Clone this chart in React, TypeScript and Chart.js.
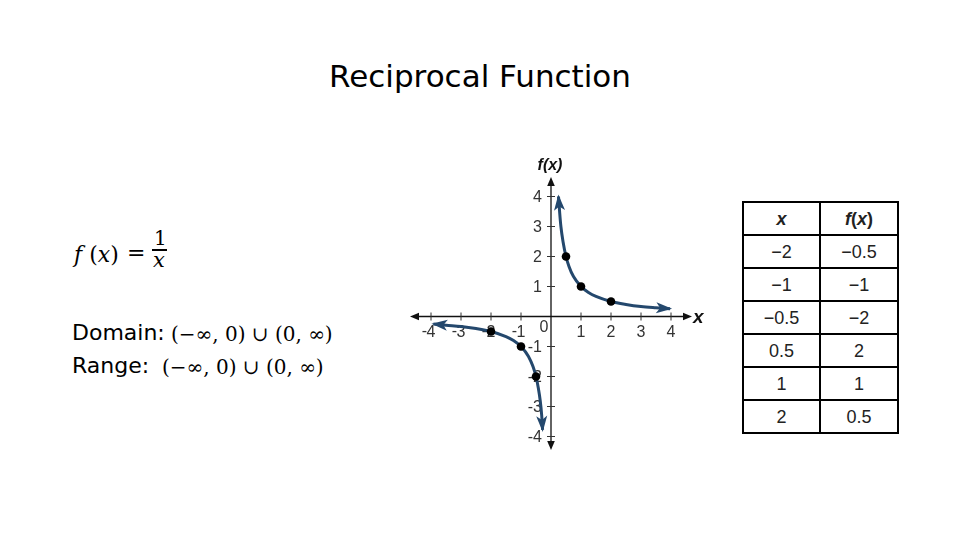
import React, { useEffect, useRef } from "react";
import { Chart, registerables } from "chart.js";

Chart.register(...registerables);

// ---- data ----
const titleText = "Reciprocal Function";

const tableX = [-2, -1, -0.5, 0.5, 1, 2];
const tableFx = [-0.5, -1, -2, 2, 1, 0.5];
const tableXLabels = ["−2", "−1", "−0.5", "0.5", "1", "2"];
const tableFxLabels = ["−0.5", "−1", "−2", "2", "1", "0.5"];

const leftBranchX = [-3.92, -3.5, -3, -2.5, -2, -1.5, -1.25, -1, -0.75, -0.6, -0.5, -0.42, -0.36, -0.31, -0.28];
const leftBranchY = [-0.25, -0.29, -0.33, -0.4, -0.5, -0.67, -0.8, -1, -1.33, -1.67, -2, -2.4, -2.8, -3.3, -3.78];
const rightBranchX = [0.25, 0.29, 0.33, 0.4, 0.5, 0.6, 0.75, 1, 1.25, 1.5, 2, 2.5, 3, 3.5, 3.97];
const rightBranchY = [4, 3.45, 3.0, 2.5, 2, 1.67, 1.33, 1, 0.8, 0.67, 0.5, 0.4, 0.33, 0.29, 0.26];

const xTicks = [-4, -3, -2, -1, 1, 2, 3, 4];
const xTickLabels = ["-4", "-3", "-2", "-1", "1", "2", "3", "4"];
const yTicks = [-4, -3, -2, -1, 1, 2, 3, 4];
const yTickLabels = ["-4", "-3", "-2", "-1", "1", "2", "3", "4"];

const xMin = -4.7;
const xMax = 4.7;
const yMin = -4.45;
const yMax = 4.65;

const curveColor = "#24486d";

const axesPlugin = {
  id: "centerAxes",
  beforeDatasetsDraw(chart: any) {
    const { ctx } = chart;
    const xs = chart.scales.x;
    const ys = chart.scales.y;
    const x0 = xs.getPixelForValue(0);
    const y0 = ys.getPixelForValue(0);
    const xl = xs.getPixelForValue(xMin);
    const xr = xs.getPixelForValue(xMax);
    const yt = ys.getPixelForValue(yMax);
    const yb = ys.getPixelForValue(yMin);
    ctx.save();
    ctx.strokeStyle = "#111";
    ctx.fillStyle = "#111";
    ctx.lineWidth = 1.3;
    ctx.beginPath();
    ctx.moveTo(xl + 4, y0);
    ctx.lineTo(xr - 4, y0);
    ctx.moveTo(x0, yt + 4);
    ctx.lineTo(x0, yb - 4);
    ctx.stroke();
    const head = (tx: number, ty: number, dx: number, dy: number) => {
      const L = 9, W = 3.8;
      const bx = tx - dx * L, by = ty - dy * L;
      ctx.beginPath();
      ctx.moveTo(tx, ty);
      ctx.lineTo(bx - dy * W, by + dx * W);
      ctx.lineTo(bx + dy * W, by - dx * W);
      ctx.closePath();
      ctx.fill();
    };
    head(xl, y0, -1, 0);
    head(xr, y0, 1, 0);
    head(x0, yt, 0, -1);
    head(x0, yb, 0, 1);
    // ticks
    ctx.lineWidth = 1;
    ctx.strokeStyle = "#333";
    ctx.beginPath();
    xTicks.forEach((v) => {
      const px = xs.getPixelForValue(v);
      ctx.moveTo(px, y0 - 4);
      ctx.lineTo(px, y0 + 4);
    });
    yTicks.forEach((v) => {
      const py = ys.getPixelForValue(v);
      ctx.moveTo(x0 - 4, py);
      ctx.lineTo(x0 + 4, py);
    });
    ctx.stroke();
    // labels
    ctx.fillStyle = "#333";
    ctx.font = '16px "Liberation Sans", Arial, sans-serif';
    ctx.textBaseline = "middle";
    xTicks.forEach((v, i) => {
      const px = xs.getPixelForValue(v);
      const lab = xTickLabels[i];
      const neg = lab.startsWith("-");
      const digits = neg ? lab.slice(1) : lab;
      const w = ctx.measureText(digits).width;
      ctx.textAlign = "center";
      ctx.fillText(digits, px, y0 + 16);
      if (neg) {
        ctx.textAlign = "right";
        ctx.fillText("-", px - w / 2 + 0.5, y0 + 15);
      }
    });
    ctx.textAlign = "right";
    yTicks.forEach((v, i) => {
      const py = ys.getPixelForValue(v);
      ctx.fillText(yTickLabels[i], x0 - 9, py + 1);
    });
    ctx.textAlign = "center";
    ctx.fillText("0", x0 - 7, y0 + 11);
    // axis titles
    ctx.fillStyle = "#111";
    ctx.font = 'italic bold 16px "Liberation Sans", Arial, sans-serif';
    ctx.textAlign = "center";
    ctx.fillText("f(x)", x0 - 1, yt - 11);
    ctx.font = 'italic bold 19px "Liberation Sans", Arial, sans-serif';
    ctx.textAlign = "left";
    ctx.fillText("x", xr + 1, y0 + 1);
    ctx.restore();
  },
};

const arrowPlugin = {
  id: "curveArrows",
  afterDatasetsDraw(chart: any) {
    const { ctx } = chart;
    ctx.save();
    ctx.fillStyle = curveColor;
    [1, 2].forEach((di) => {
      const pts = chart.getDatasetMeta(di).data;
      const n = pts.length;
      const ends = [
        [pts[0], pts[1]],
        [pts[n - 1], pts[n - 2]],
      ];
      ends.forEach(([tip, prev]: any) => {
        let dx = tip.x - prev.x;
        let dy = tip.y - prev.y;
        const d = Math.hypot(dx, dy) || 1;
        dx /= d;
        dy /= d;
        const L = 14, W = 5.5;
        const bx = tip.x - dx * L, by = tip.y - dy * L;
        ctx.beginPath();
        ctx.moveTo(tip.x + dx * 2, tip.y + dy * 2);
        ctx.lineTo(bx - dy * W, by + dx * W);
        ctx.lineTo(tip.x - dx * (L - 4), tip.y - dy * (L - 4));
        ctx.lineTo(bx + dy * W, by - dx * W);
        ctx.closePath();
        ctx.fill();
      });
    });
    ctx.restore();
  },
};

function Graph() {
  const ref = useRef<HTMLCanvasElement | null>(null);
  useEffect(() => {
    if (!ref.current) return;
    const chart = new Chart(ref.current, {
      type: "scatter",
      data: {
        datasets: [
          {
            data: tableX.map((x, i) => ({ x, y: tableFx[i] })),
            showLine: false,
            pointRadius: 4.3,
            pointBackgroundColor: "#000",
            pointBorderColor: "#000",
            pointBorderWidth: 0,
          },
          {
            data: leftBranchX.map((x, i) => ({ x, y: leftBranchY[i] })),
            showLine: true,
            borderColor: curveColor,
            borderWidth: 3,
            pointRadius: 0,
            cubicInterpolationMode: "monotone",
          },
          {
            data: rightBranchX.map((x, i) => ({ x, y: rightBranchY[i] })),
            showLine: true,
            borderColor: curveColor,
            borderWidth: 3,
            pointRadius: 0,
            cubicInterpolationMode: "monotone",
          },
        ] as any,
      },
      options: {
        animation: false,
        responsive: false,
        devicePixelRatio: 1,
        layout: { padding: { left: 30, right: 28, top: 37, bottom: 10 } },
        plugins: { legend: { display: false }, tooltip: { enabled: false } },
        scales: {
          x: { type: "linear", min: xMin, max: xMax, display: false },
          y: { type: "linear", min: yMin, max: yMax, display: false },
        },
      },
      plugins: [axesPlugin, arrowPlugin],
    });
    return () => chart.destroy();
  }, []);
  return (
    <canvas
      ref={ref}
      width={340}
      height={320}
      style={{ position: "absolute", left: 380, top: 140, width: 340, height: 320 }}
    />
  );
}

const sans = '"DejaVu Sans", Verdana, sans-serif';
const serif = '"DejaVu Serif", "Liberation Serif", serif';
const arial = '"Liberation Sans", Arial, sans-serif';

function Txt(props: { left: number; base: number; size: number; font: string; italic?: boolean; bold?: boolean; children: any; color?: string }) {
  const { left, base, size, font, italic, bold, children, color } = props;
  return (
    <div
      style={{
        position: "absolute",
        left,
        top: base - 0.846 * size,
        fontSize: size,
        lineHeight: 1,
        fontFamily: font,
        fontStyle: italic ? "italic" : "normal",
        fontWeight: bold ? "bold" : "normal",
        whiteSpace: "nowrap",
        color: color || "#000",
      }}
    >
      {children}
    </div>
  );
}

function Table() {
  const rows = [["x", "f(x)"], ...tableXLabels.map((l, i) => [l, tableFxLabels[i]])];
  const rowH = [33, 33, 33, 33, 33, 33, 31];
  return (
    <div
      style={{
        position: "absolute",
        left: 742,
        top: 201,
        width: 157,
        height: 233,
        border: "2px solid #000",
        boxSizing: "border-box",
        display: "grid",
        gridTemplateColumns: "77px 76px",
        gridTemplateRows: rowH.map((h) => h + "px").join(" "),
        fontFamily: arial,
        fontSize: 18,
        color: "#222",
      }}
    >
      {rows.map((r, ri) =>
        r.map((c, ci) => (
          <div
            key={ri + "-" + ci}
            style={{
              boxSizing: "border-box",
              borderRight: ci === 0 ? "2px solid #000" : "none",
              borderBottom: ri < rows.length - 1 ? "2px solid #000" : "none",
              display: "flex",
              alignItems: "center",
              justifyContent: "center",
              fontWeight: ri === 0 ? "bold" : "normal",
              fontStyle: "normal",
              paddingTop: 1,
            }}
          >
            {ri === 0 ? (
              ci === 0 ? (
                <i>x</i>
              ) : (
                <span>
                  <i>f</i>(<i>x</i>)
                </span>
              )
            ) : (
              c
            )}
          </div>
        ))
      )}
    </div>
  );
}

export default function App() {
  return (
    <div
      style={{
        position: "fixed",
        left: 0,
        top: 0,
        width: 960,
        height: 540,
        background: "#fff",
        overflow: "hidden",
      }}
    >
      <div
        style={{
          position: "absolute",
          left: 0,
          width: 960,
          top: 87.5 - 0.846 * 31,
          textAlign: "center",
          fontFamily: sans,
          fontSize: 31,
          lineHeight: 1,
          color: "#000",
        }}
      >
        {titleText}
      </div>

      <Txt left={74} base={263} size={22} font={serif}>
        <i>f</i> (<i>x</i>)
      </Txt>
      <Txt left={127} base={261} size={22} font={serif}>=</Txt>
      <Txt left={154} base={245} size={20} font={serif}>1</Txt>
      <div style={{ position: "absolute", left: 152, top: 249, width: 15, height: 1.5, background: "#000" }} />
      <Txt left={153} base={268} size={21} font={serif} italic>x</Txt>

      <Txt left={72} base={341} size={22} font={sans}>Domain:</Txt>
      <Txt left={171} base={341} size={20} font={serif}>(−∞, 0) ∪ (0, ∞)</Txt>
      <Txt left={72} base={374} size={22} font={sans}>Range:</Txt>
      <Txt left={162} base={374} size={20} font={serif}>(−∞, 0) ∪ (0, ∞)</Txt>

      <Graph />
      <Table />
    </div>
  );
}
